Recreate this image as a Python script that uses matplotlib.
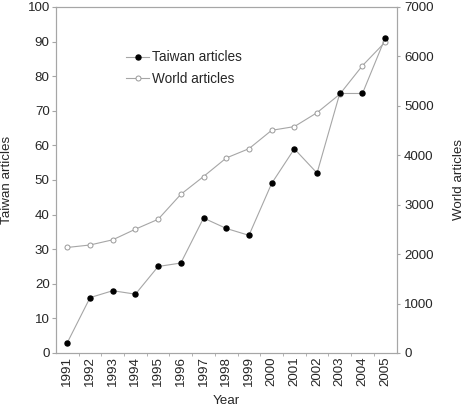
import numpy as np
import matplotlib
matplotlib.use("Agg")
from matplotlib import pyplot as plt

plt.rcParams['font.family'] = ['Liberation Sans', 'DejaVu Sans']

years = list(range(1991, 2006))
taiwan = [3, 16, 18, 17, 25, 26, 39, 36, 34, 49, 59, 52, 75, 75, 91]
world = [2135, 2185, 2290, 2505, 2705, 3210, 3570, 3945, 4133, 4505, 4580, 4862, 5235, 5813, 6290]

line_col = '#a6a6a6'
text_col = '#262626'
fs = 9.6

fig = plt.figure(figsize=(4.65, 4.13), dpi=100)
ax = fig.add_axes([0.1204, 0.1453, 0.7323, 0.8378])
ax2 = ax.twinx()
# black Taiwan markers sit on top of the world ones
ax.set_zorder(ax2.get_zorder() + 1)
ax.patch.set_visible(False)

l1, = ax.plot(years, taiwan, color=line_col, lw=0.8, marker='o', ms=3.6,
              mfc='black', mec='black', label='Taiwan articles', zorder=3)
l2, = ax2.plot(years, world, color=line_col, lw=0.8, marker='o', ms=3.6,
               mfc='white', mec='#999999', mew=0.7, label='World articles')

ax.set_xlim(1990.5, 2005.5)
ax.set_ylim(0, 100)
ax2.set_ylim(0, 7000)
ax.set_yticks(range(0, 101, 10))
ax2.set_yticks(range(0, 7001, 1000))
ax.set_xticks(years)
ax.set_xticklabels([str(y) for y in years], rotation=90)
# tick marks sit between years
ax.set_xticks(np.arange(1991.5, 2005, 1), minor=True)
ax.tick_params(axis='x', which='major', length=0, pad=2.5)
ax.tick_params(axis='x', which='minor', length=2.5, color=line_col)

for a in (ax, ax2):
    for s in a.spines.values():
        s.set_color(line_col)
        s.set_linewidth(0.8)
ax.tick_params(axis='y', length=3, pad=1.5, color=line_col, labelsize=fs, labelcolor=text_col)
ax2.tick_params(axis='y', length=2, pad=3.5, color=line_col, labelsize=fs, labelcolor=text_col)
ax.tick_params(axis='x', labelsize=fs, labelcolor=text_col)

ax.set_ylabel('Taiwan articles', fontsize=fs, color=text_col)
ax2.set_ylabel('World articles', fontsize=fs, color=text_col, rotation=90)
ax.set_xlabel('Year', fontsize=fs, color=text_col)
ax.yaxis.set_label_coords(-0.125, 0.5)
ax2.yaxis.set_label_coords(1.165, 0.5)
ax.xaxis.set_label_coords(0.5, -0.12)

ax.legend([l1, l2], ['Taiwan articles', 'World articles'], frameon=False,
          loc='upper left', bbox_to_anchor=(0.17, 0.91), fontsize=9.8,
          handlelength=1.7, handletextpad=0.2, labelspacing=0.55,
          labelcolor=text_col)

fig.savefig('out.png', dpi=100)
